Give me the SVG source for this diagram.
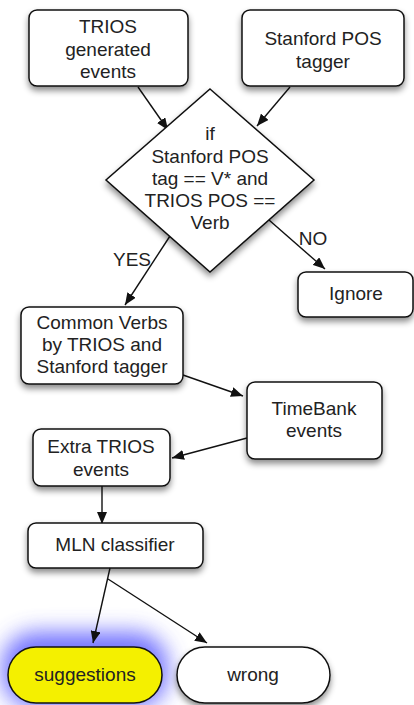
<svg xmlns="http://www.w3.org/2000/svg" width="414" height="705" viewBox="0 0 414 705">
<style>
.n{fill:#fff;stroke:#111;stroke-width:1.5}
.t{font-family:"Liberation Sans",Arial,sans-serif;font-size:19px;fill:#222;text-anchor:middle}
.c{stroke:#111;stroke-width:1.4;fill:none;marker-end:url(#ah)}
</style>
<defs>
<marker id="ah" viewBox="0 0 12 10" refX="12" refY="5" markerWidth="12" markerHeight="10" markerUnits="userSpaceOnUse" orient="auto">
<path d="M0,0 L12,5 L0,10 z" fill="#111"/>
</marker>
<filter id="sh" x="-20%" y="-20%" width="140%" height="160%">
<feDropShadow dx="0" dy="4" stdDeviation="3" flood-color="#000" flood-opacity="0.45"/>
</filter>
<filter id="blur" x="-50%" y="-100%" width="200%" height="300%">
<feGaussianBlur stdDeviation="11"/>
</filter>
</defs>
<g id="connectors">
<line class="c" x1="138" y1="87" x2="168" y2="130"/>
<line class="c" x1="290" y1="87" x2="257" y2="126"/>
<line class="c" x1="170" y1="236" x2="125" y2="305"/>
<line class="c" x1="269" y1="220" x2="325" y2="269"/>
<line class="c" x1="183" y1="375" x2="243" y2="396"/>
<line class="c" x1="247" y1="438" x2="172" y2="458"/>
<line class="c" x1="102" y1="486" x2="102" y2="524"/>
<text class="t" x="132" y="266">YES</text>
<text class="t" x="313" y="245">NO</text>
</g>
<g id="trios">
<rect class="n" x="29" y="10" width="159" height="76" rx="8" filter="url(#sh)"/>
<text class="t" x="108" y="33">TRIOS</text>
<text class="t" x="108" y="55.5">generated</text>
<text class="t" x="108" y="78">events</text>
</g>
<g id="stanford">
<rect class="n" x="242" y="10" width="162" height="76" rx="8" filter="url(#sh)"/>
<text class="t" x="323" y="45">Stanford POS</text>
<text class="t" x="323" y="67.5">tagger</text>
</g>
<g id="decision">
<polygon class="n" points="210,89 314,180 210,272 106,180" filter="url(#sh)"/>
<text class="t" x="210" y="140">if</text>
<text class="t" x="210" y="163">Stanford POS</text>
<text class="t" x="210" y="185">tag == V* and</text>
<text class="t" x="210" y="207">TRIOS POS ==</text>
<text class="t" x="210" y="229">Verb</text>
</g>
<g id="ignore">
<rect class="n" x="298" y="272" width="115" height="45" rx="8" filter="url(#sh)"/>
<text class="t" x="356" y="300">Ignore</text>
</g>
<g id="common">
<rect class="n" x="21" y="307" width="162" height="77" rx="8" filter="url(#sh)"/>
<text class="t" x="102" y="329">Common Verbs</text>
<text class="t" x="102" y="351">by TRIOS and</text>
<text class="t" x="102" y="373">Stanford tagger</text>
</g>
<g id="timebank">
<rect class="n" x="247" y="382" width="135" height="77" rx="8" filter="url(#sh)"/>
<text class="t" x="314" y="415">TimeBank</text>
<text class="t" x="314" y="437">events</text>
</g>
<g id="extra">
<rect class="n" x="33" y="429" width="137" height="57" rx="8" filter="url(#sh)"/>
<text class="t" x="101" y="453">Extra TRIOS</text>
<text class="t" x="101" y="476">events</text>
</g>
<g id="mln">
<rect class="n" x="28" y="523" width="175" height="45" rx="8" filter="url(#sh)"/>
<text class="t" x="115" y="551">MLN classifier</text>
</g>
<g id="suggestions">
<rect x="2" y="632" width="166" height="76" rx="34" fill="#5a5aff" opacity="0.85" filter="url(#blur)"/>
<rect x="8" y="647" width="154" height="56" rx="28" fill="#f4f000" stroke="#111" stroke-width="1.5"/>
<text class="t" x="85" y="681">suggestions</text>
</g>
<g id="wrong">
<rect class="n" x="177" y="647" width="153" height="56" rx="28" filter="url(#sh)"/>
<text class="t" x="253" y="681">wrong</text>
</g>
<g id="connectors2">
<line class="c" x1="110" y1="568" x2="93" y2="643"/>
<line class="c" x1="108" y1="579" x2="207" y2="643"/>
</g>
</svg>
